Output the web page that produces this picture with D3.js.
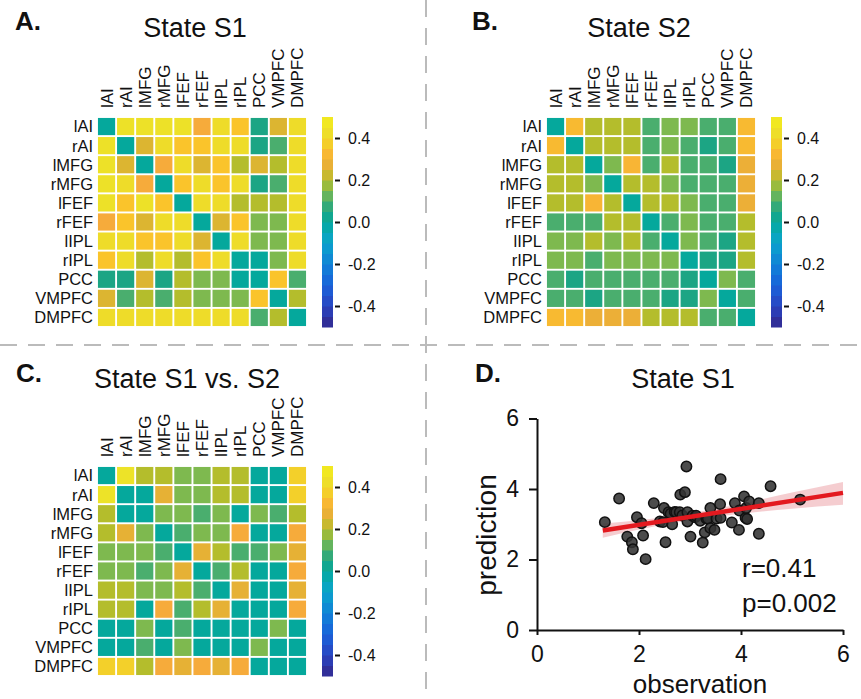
<!DOCTYPE html>
<html>
<head>
<meta charset="utf-8">
<script src="https://cdn.jsdelivr.net/npm/d3@7"></script>
<style>
body { margin: 0; background: #fff; }
text { font-family: "Liberation Sans", Arial, Helvetica, sans-serif; fill: #111; }
</style>
</head>
<body>
<div id="chart"></div>
<script>
// ---- data ----
const regions = ["lAI", "rAI", "lMFG", "rMFG", "lFEF", "rFEF", "lIPL", "rIPL", "PCC", "VMPFC", "DMPFC"];

const stateS1 = [
  [0, .44, .44, .44, .44, .3, .42, .35, .05, .25, .42],
  [.44, 0, .25, .42, .35, .35, .42, .42, .05, .1, .42],
  [.44, .25, 0, .3, .42, .25, .35, .2, .25, .2, .42],
  [.44, .42, .3, 0, .35, .42, .35, .42, .05, .1, .42],
  [.44, .35, .44, .35, 0, .42, .42, .2, .2, .2, .42],
  [.3, .35, .25, .42, .42, 0, .25, .35, .15, .15, .42],
  [.42, .42, .35, .35, .42, .25, 0, .42, .15, .15, .42],
  [.35, .42, .2, .42, .2, .35, .42, 0, 0, .15, .42],
  [.05, .05, .25, .05, .2, .15, .15, 0, 0, .35, .1],
  [.25, .1, .2, .1, .2, .15, .15, .15, .35, 0, .2],
  [.42, .42, .42, .42, .42, .42, .42, .42, .1, .2, 0]
];

const stateS2 = [
  [0, .33, .2, .2, .2, .1, .15, .15, .1, .1, .33],
  [.33, 0, .2, .2, .2, .1, .15, .1, .05, .1, .33],
  [.2, .2, 0, .15, .32, .1, .2, .1, .1, .05, .28],
  [.2, .2, .15, 0, .2, .2, .15, .1, .1, .1, .28],
  [.2, .2, .32, .2, 0, .2, .2, .15, .1, .1, .28],
  [.1, .1, .1, .2, .2, 0, .1, .15, .1, .1, .2],
  [.15, .15, .2, .15, .2, .1, 0, .15, .1, .05, .2],
  [.15, .15, .1, .15, .15, .15, .15, 0, .05, .05, .2],
  [.1, .05, .1, .1, .1, .1, .1, .05, 0, .15, .1],
  [.1, .1, .05, .1, .1, .1, .05, .05, .15, 0, .1],
  [.33, .33, .28, .28, .28, .2, .2, .2, .1, .1, 0]
];

const stateDiff = [
  [0, .45, .2, .2, .15, .15, .2, .2, 0, 0, .38],
  [.45, 0, 0, .27, .15, .15, .2, .2, 0, 0, .38],
  [.2, 0, 0, .15, .15, .1, .15, 0, .15, .1, .2],
  [.2, .27, .15, 0, .1, .15, .15, .3, 0, 0, .3],
  [.15, .15, .15, .1, 0, .27, .2, .1, .1, .15, .27],
  [.15, .15, .1, .15, .27, 0, .1, .2, 0, 0, .3],
  [.2, .2, .15, .15, .2, .1, 0, .27, 0, 0, .27],
  [.2, .2, 0, .3, .1, .2, .27, 0, 0, 0, .3],
  [0, 0, .15, 0, .1, 0, 0, 0, 0, .15, 0],
  [0, 0, .1, 0, .15, 0, 0, 0, .15, 0, 0],
  [.38, .38, .2, .3, .27, .3, .27, .3, 0, 0, 0]
];

const cbarTicks = [-0.4, -0.2, 0, 0.2, 0.4];

// panel D scatter (observation, prediction)
const observation = [1.33, 1.61, 1.77, 1.86, 1.88, 1.96, 2.05, 2.08, 2.13, 2.29, 2.41, 2.47, 2.49, 2.52, 2.58,
  2.62, 2.65, 2.70, 2.73, 2.80, 2.81, 2.85, 2.90, 2.93, 2.95, 2.95, 3.01, 3.05, 3.10, 3.12, 3.20, 3.25, 3.29,
  3.32, 3.35, 3.40, 3.40, 3.48, 3.52, 3.59, 3.60, 3.60, 3.82, 3.88, 3.96, 3.97, 4.06, 4.09, 4.10, 4.12, 4.16,
  4.35, 4.35, 4.58, 5.16];
const prediction = [3.06, 3.73, 2.65, 2.49, 2.29, 3.20, 3.03, 2.68, 2.01, 3.60, 3.08, 3.06, 3.46, 2.49, 3.34,
  3.30, 3.00, 3.35, 3.34, 3.34, 3.84, 3.25, 3.91, 4.64, 3.34, 3.08, 2.65, 3.24, 3.20, 3.24, 3.10, 2.48, 2.77,
  3.16, 3.16, 3.46, 2.89, 2.84, 3.16, 3.57, 4.28, 3.18, 3.05, 3.60, 2.84, 3.39, 3.79, 3.18, 3.46, 3.15, 3.65,
  3.60, 2.73, 4.08, 3.70];
const axisTicks = [0, 2, 4, 6];
const fitX = [1.29, 6];
const fitY = [2.82, 3.89];
const bandX = [1.29, 2, 3, 4, 5, 6];
const bandLo = [2.62, 2.85, 3.11, 3.30, 3.44, 3.55];
const bandHi = [3.02, 3.11, 3.31, 3.58, 3.90, 4.20];

// ---- page ----
const width = 861, height = 699;
const svg = d3.select("#chart").append("svg")
  .attr("width", width).attr("height", height);
svg.append("rect").attr("width", width).attr("height", height).attr("fill", "#fff");

// parula-like colour map
const stopVals = [-0.5, -0.45, -0.4, -0.35, -0.3, -0.25, -0.2, -0.15, -0.1, -0.05, 0, 0.05, 0.1, 0.15, 0.2, 0.25, 0.3, 0.35, 0.4, 0.45, 0.5];
const stopCols = ["#33288a", "#2e35a8", "#2a44bf", "#2253cf", "#1a62d8", "#1472d9", "#1282d6", "#0e92d2", "#0aa1cb", "#0aa8b8",
  "#05a89c", "#1ca584", "#4aae6e", "#7eb94f", "#b4bd2c", "#dcb531", "#f6ab3b", "#fac42b", "#eed829", "#ede328", "#f5ec1a"];
const color = d3.scaleLinear().domain(stopVals).range(stopCols).clamp(true);

// dashed separators
svg.append("line").attr("x1", 426).attr("x2", 426).attr("y1", 0).attr("y2", height)
  .attr("stroke", "#bbb").attr("stroke-width", 2).attr("stroke-dasharray", "17,11");
svg.append("line").attr("x1", 0).attr("x2", width).attr("y1", 345).attr("y2", 345)
  .attr("stroke", "#bbb").attr("stroke-width", 2).attr("stroke-dasharray", "17,11");

function heatmap(matrix, x0, y0, cbX, letter, letterX, letterY, title, titleX, titleY) {
  const g = svg.append("g");
  const x = d3.scaleBand().domain(d3.range(regions.length)).range([x0, x0 + 210]).paddingInner(0.1).paddingOuter(0.05);
  const y = d3.scaleBand().domain(d3.range(regions.length)).range([y0, y0 + 210]).paddingInner(0.1).paddingOuter(0.05);

  g.append("text").attr("x", letterX).attr("y", letterY).text(letter)
    .style("font-size", "26px").style("font-weight", "bold");
  g.append("text").attr("x", titleX).attr("y", titleY).text(title)
    .attr("text-anchor", "middle").style("font-size", "27px");

  matrix.forEach(function(row, i) {
    g.selectAll(null).data(row).enter().append("rect")
      .attr("x", function(d, j) { return x(j); })
      .attr("y", y(i))
      .attr("width", x.bandwidth())
      .attr("height", y.bandwidth())
      .attr("fill", function(d) { return color(d); });
  });

  // row labels
  g.selectAll(null).data(regions).enter().append("text")
    .attr("x", x0 - 4)
    .attr("y", function(d, i) { return y(i) + y.bandwidth() / 2; })
    .attr("dy", "0.36em")
    .attr("text-anchor", "end")
    .style("font-size", "16.5px")
    .text(function(d) { return d; });

  // column labels
  g.selectAll(null).data(regions).enter().append("text")
    .attr("transform", function(d, i) { return `translate(${x(i) + x.bandwidth() / 2 + 6},${y0 - 9}) rotate(-90)`; })
    .attr("text-anchor", "start")
    .style("font-size", "17px")
    .text(function(d) { return d; });

  // colour bar
  const cb = d3.scaleLinear().domain([-0.5, 0.5]).range([y0 + 210, y0]);
  const bands = d3.range(20).map(function(k) { return -0.5 + k * 0.05; });
  g.selectAll(null).data(bands).enter().append("rect")
    .attr("x", cbX).attr("width", 11)
    .attr("y", function(d) { return cb(d + 0.05); })
    .attr("height", function(d) { return cb(d) - cb(d + 0.05) + 0.5; })
    .attr("fill", function(d) { return color(d + 0.025); });
  const ax = g.append("g").attr("transform", `translate(${cbX + 13},0)`)
    .call(d3.axisRight(cb).tickValues(cbarTicks).tickSize(5).tickPadding(8)
      .tickFormat(function(d) { return d.toFixed(1); }));
  ax.select(".domain").remove();
  ax.selectAll("line").attr("stroke", "#111").attr("stroke-width", 2);
  ax.selectAll("text").style("font-size", "16px").attr("fill", "#111");
}

heatmap(stateS1, 97, 117, 322, "A.", 15, 30, "State S1", 195, 37);
heatmap(stateS2, 546, 117, 771, "B.", 472, 30, "State S2", 639, 37);
heatmap(stateDiff, 97, 466, 322, "C.", 16, 382, "State S1 vs. S2", 187, 388);

// ---- panel D ----
const gD = svg.append("g");
gD.append("text").attr("x", 475).attr("y", 382).text("D.")
  .style("font-size", "26px").style("font-weight", "bold");
gD.append("text").attr("x", 683).attr("y", 388).text("State S1")
  .attr("text-anchor", "middle").style("font-size", "27px");

const xS = d3.scaleLinear().domain([0, 6]).range([537, 843]);
const yS = d3.scaleLinear().domain([0, 6]).range([630, 418.5]);

const band = bandX.map(function(d, i) { return { x: d, lo: bandLo[i], hi: bandHi[i] }; });
gD.append("path").datum(band)
  .attr("d", d3.area().x(function(d) { return xS(d.x); }).y0(function(d) { return yS(d.lo); }).y1(function(d) { return yS(d.hi); }).curve(d3.curveMonotoneX))
  .attr("fill", "#f3c4c8").attr("opacity", 0.85);

const pts = observation.map(function(d, i) { return { x: d, y: prediction[i] }; });
gD.selectAll("circle").data(pts).enter().append("circle")
  .attr("cx", function(d) { return xS(d.x); })
  .attr("cy", function(d) { return yS(d.y); })
  .attr("r", 5.2)
  .attr("fill", "#333").attr("fill-opacity", 0.88)
  .attr("stroke", "#111").attr("stroke-width", 1.5);

gD.append("line")
  .attr("x1", xS(fitX[0])).attr("y1", yS(fitY[0]))
  .attr("x2", xS(fitX[1])).attr("y2", yS(fitY[1]))
  .attr("stroke", "#e3191f").attr("stroke-width", 4.5);

const xAx = gD.append("g").attr("transform", "translate(0,630)")
  .call(d3.axisBottom(xS).tickValues(axisTicks).tickFormat(d3.format("d")).tickSize(5).tickSizeOuter(0).tickPadding(11));
const yAx = gD.append("g").attr("transform", "translate(537,0)")
  .call(d3.axisLeft(yS).tickValues(axisTicks).tickFormat(d3.format("d")).tickSize(8).tickSizeOuter(0).tickPadding(10));
[xAx, yAx].forEach(function(a) {
  a.selectAll("path, line").attr("stroke", "#111").attr("stroke-width", 2);
  a.selectAll("text").style("font-size", "23px").attr("fill", "#111");
});

gD.append("text").attr("x", 700).attr("y", 693).attr("text-anchor", "middle")
  .style("font-size", "26px").text("observation");
gD.append("text").attr("transform", "translate(496,535) rotate(-90)").attr("text-anchor", "middle")
  .style("font-size", "28px").text("prediction");
gD.append("text").attr("x", 742).attr("y", 577).style("font-size", "26px").text("r=0.41");
gD.append("text").attr("x", 742).attr("y", 612).style("font-size", "26px").text("p=0.002");
</script>
</body>
</html>
